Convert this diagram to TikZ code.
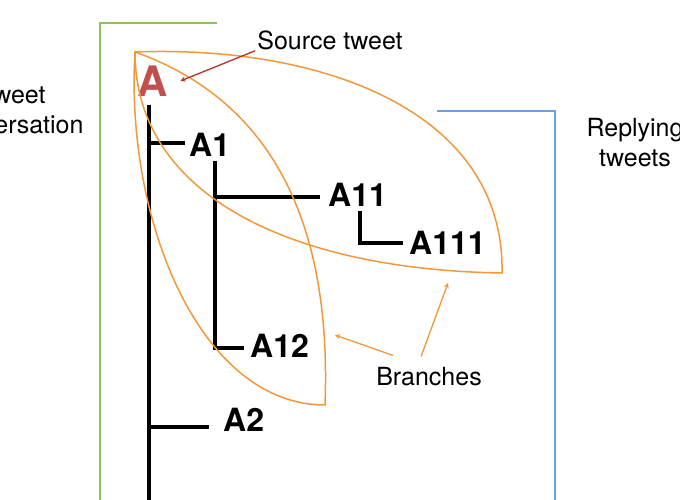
\documentclass[tikz,border=0pt]{standalone}
\usepackage{fontspec}
\setmainfont{TeX Gyre Heros}
\definecolor{leaf}{RGB}{242,152,58}
\definecolor{srcred}{RGB}{192,80,77}
\definecolor{arrred}{RGB}{176,52,40}
\definecolor{convgreen}{RGB}{140,196,84}
\definecolor{replyblue}{RGB}{100,160,236}
\begin{document}
\begin{tikzpicture}[>=stealth, x=1pt, y=1pt,
  tree/.style={line width=4pt},
  lbl/.style={inner sep=0pt, anchor=west, font=\fontsize{32}{38}\selectfont\bfseries},
  txt/.style={inner sep=0pt, align=center, font=\fontsize{25}{30}\selectfont},
  leafline/.style={draw=leaf, line width=1.5pt}]
\useasboundingbox (0,0) rectangle (680,500);
% frames
\draw[convgreen, line width=2pt] (217,477) -- (100,477) -- (100,0);
\draw[replyblue, line width=2pt] (437,389) -- (555,389) -- (555,0);
\node[txt] (conv) at (13,390) {Tweet\\conversation};
\node[txt] (reply) at (635,357) {Replying\\tweets};
% tweets
\node[inner sep=0pt, text=srcred, font=\fontsize{42}{48}\selectfont\bfseries] (A) at (153,419) {A};
\node[lbl] (A1) at (189,355) {A1};
\node[lbl] (A11) at (328,305) {A11};
\node[lbl] (A111) at (409,257) {A111};
\node[lbl] (A12) at (250,154) {A12};
\node[lbl] (A2) at (223,80) {A2};
\coordinate (trunk) at (149,0);
\draw[tree] ([shift={(-4,-8)}]A.south) -- (trunk);
\draw[tree] ([yshift=2pt]A1.west -| trunk) -- ([shift={(-4,2)}]A1.west);
\draw[tree] ([shift={(5.5,-4)}]A1.south) coordinate (A1top) |- ([shift={(-6,-2)}]A12.west);
\draw[tree] ([yshift=-2pt]A11.west -| A1top) -- ([shift={(-8,-2)}]A11.west);
\draw[tree] ([shift={(2.5,-4)}]A11.south) |- ([xshift=-6pt]A111.west);
\draw[tree] ([yshift=-7pt]A2.west -| trunk) -- ([shift={(-14,-7)}]A2.west);
% branches
\draw[leafline] (135,448) .. controls (125,280) and (200,95) .. (325,95)
  .. controls (332,280) and (270,400) .. cycle;
\draw[leafline] (135,448) .. controls (320,455) and (505,390) .. (502,227)
  .. controls (300,230) and (135,300) .. cycle;
% labels
\node[txt] (source) at (330,460) {Source tweet};
\draw[->, arrred, line width=1.3pt] ([shift={(-2,-1)}]source.south west) -- ([xshift=12pt]A.east);
\node[txt] (branches) at (429,123) {Branches};
\coordinate (vleaf) at (335,165);
\coordinate (hleaf) at (448,217);
\draw[->, leaf, line width=1.3pt] ([shift={(17,12)}]branches.north west) -- (vleaf);
\draw[->, leaf, line width=1.3pt] ([shift={(45,11)}]branches.north west) -- (hleaf);
\end{tikzpicture}
\end{document}
